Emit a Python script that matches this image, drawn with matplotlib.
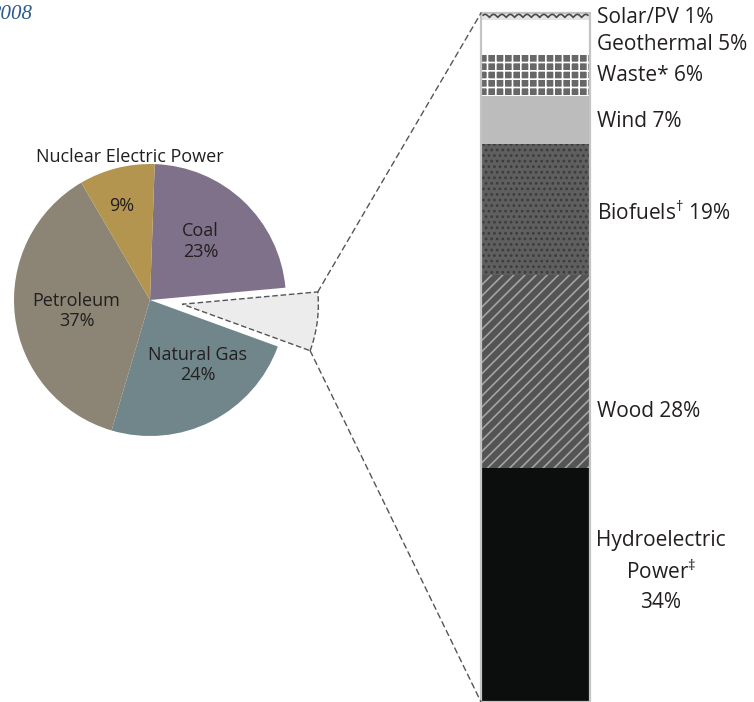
import numpy as np
import matplotlib
matplotlib.use("Agg")
import matplotlib.pyplot as plt
from matplotlib.patches import ConnectionPatch, Rectangle

plt.rcParams['font.family'] = ['Open Sans', 'DejaVu Sans']
plt.rcParams['mathtext.fontset'] = 'custom'
plt.rcParams['mathtext.rm'] = 'Open Sans'
plt.rcParams['hatch.linewidth'] = 1.2

# U.S. energy consumption by source (%)
pie_labels = ["Coal", "Renewable", "Natural Gas", "Petroleum", "Nuclear Electric Power"]
pie_values = [23, 7, 24, 37, 9]
pie_colors = ["#7e7189", "#ececec", "#71868b", "#8c8474", "#b3954f"]

# Renewable energy breakdown (%), bottom to top
ren_labels = ["Hydroelectric\nPower$^{\u2021}$\n34%", "Wood 28%", "Biofuels$^{\u2020}$ 19%",
              "Wind 7%", "Waste* 6%", "Geothermal 5%", "Solar/PV 1%"]
ren_values = [34, 28, 19, 7, 6, 5, 1]

W, H = 754, 702
fig = plt.figure(figsize=(W / 100, H / 100), dpi=100)

TXT = "#231f20"

# ---- pie ----
R = 136.0
cx, cy = 150, 702 - 300
half = 200
ax_pie = fig.add_axes([(cx - half) / W, (cy - half) / H, 2 * half / W, 2 * half / H])
ax_pie.axis("off")

explode = [0, 0.24, 0, 0, 0]
wedges, _ = ax_pie.pie(pie_values, colors=pie_colors, startangle=88, counterclock=False,
                       explode=explode, radius=1.0, frame=False,
                       wedgeprops=dict(linewidth=0))
ren = wedges[1]
ren.set_edgecolor("#555555")
ren.set_linewidth(1.0)
ren.set_linestyle((0, (4, 2)))
ax_pie.set_xlim(-half / R, half / R)
ax_pie.set_ylim(-half / R, half / R)

fs_pie = 13
ax_pie.text(-0.15, 1.05, "Nuclear Electric Power", ha="center", va="center", fontsize=fs_pie, color=TXT)
ax_pie.text(-0.21, 0.69, "9%", ha="center", va="center", fontsize=fs_pie, color=TXT)
ax_pie.text(0.37, 0.43, "Coal\n23%", ha="center", va="center", fontsize=fs_pie, color=TXT, linespacing=1.15)
ax_pie.text(-0.54, -0.08, "Petroleum\n37%", ha="center", va="center", fontsize=fs_pie, color=TXT, linespacing=1.15)
ax_pie.text(0.35, -0.48, "Natural Gas\n24%", ha="center", va="center", fontsize=fs_pie, color=TXT, linespacing=1.15)

# ---- stacked renewable bar ----
bx0, bx1, by_top = 481, 590, 13
ax_bar = fig.add_axes([bx0 / W, 0, (bx1 - bx0) / W, (H - by_top) / H])
ax_bar.set_xlim(0, 1)
ax_bar.set_ylim(0, sum(ren_values))
ax_bar.axis("off")

styles = [
    dict(facecolor="#0c0e0d", hatch=None, edgecolor="#0c0e0d"),
    dict(facecolor="#545454", hatch="///", edgecolor="#a4a4a4"),
    dict(facecolor="#5f5f5f", hatch="...", edgecolor="#3c3c3c"),
    dict(facecolor="#bcbcbc", hatch=None, edgecolor="#bcbcbc"),
    dict(facecolor="#676767", hatch="++", edgecolor="#ffffff"),
    dict(facecolor="#ffffff", hatch=None, edgecolor="#ffffff"),
    dict(facecolor="#e4e4e4", hatch=None, edgecolor="#e4e4e4"),
]
bottoms = np.concatenate([[0], np.cumsum(ren_values)[:-1]])
bars = []
for v, b, st in zip(ren_values, bottoms, styles):
    rect = ax_bar.bar(0, v, bottom=b, width=1, align="edge", linewidth=0, **st)[0]
    bars.append(rect)

# wavy band in the solar segment
solar = bars[-1]
sx = np.linspace(0.02, 0.98, 400)
sy = solar.get_y() + solar.get_height() * (0.35 + 0.45 * np.abs(np.sin(sx * np.pi * 13)))
ax_bar.plot(sx, sy, color="#4a4a4a", lw=1.2)

ax_bar.add_patch(Rectangle((0, 0), 1, sum(ren_values), facecolor="none",
                           edgecolor="#c4c4c4", lw=1.6, clip_on=False))

fs_bar = 15
label_pos = [(1.65, 19.0), (1.064, 42.1), (1.064, 71.0), (1.064, 84.2),
             (1.064, 90.9), (1.064, 95.4), (1.064, 99.3)]
for lab, (lx, ly) in zip(ren_labels, label_pos):
    multi = "\n" in lab
    ax_bar.text(lx, ly, lab, ha="center" if multi else "left", va="center",
                fontsize=fs_bar, color=TXT, linespacing=1.5 if multi else 1.2,
                clip_on=False)

# ---- dashed connectors from the exploded slice to the bar ----
c = np.array(ren.center)
r = ren.r
p_top = c + r * np.array([np.cos(np.radians(ren.theta2)), np.sin(np.radians(ren.theta2))])
p_bot = c + r * np.array([np.cos(np.radians(ren.theta1)), np.sin(np.radians(ren.theta1))])
for pa, pb in [(p_top, (0, sum(ren_values))), (p_bot, (0, 0))]:
    con = ConnectionPatch(xyA=tuple(pa), coordsA=ax_pie.transData,
                          xyB=pb, coordsB=ax_bar.transData,
                          color="#555555", lw=1.0, linestyle=(0, (4, 3)))
    fig.add_artist(con)

fig.text(33 / W, 1 - 19 / H, "2008", ha="right", va="baseline", fontsize=15,
         style="italic", family="Liberation Serif", color="#2b5a8c")

fig.savefig("out.png", dpi=100)
